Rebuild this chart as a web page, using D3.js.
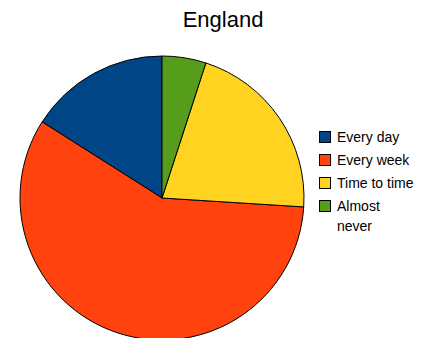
<!DOCTYPE html>
<html>
<head>
<meta charset="utf-8">
<script src="https://cdn.jsdelivr.net/npm/d3@7"></script>
<style>
  body { margin: 0; background: #fff; }
  svg { display: block; font-family: "Liberation Sans", Arial, sans-serif; }
</style>
</head>
<body>
<div id="viz"></div>
<script>
// dados - data
var categories = ['Every day', 'Every week', 'Time to time', 'Almost never'];
var values = [16, 58, 21, 5];
var colors = ['#004586', '#ff420e', '#ffd320', '#579d1c'];

var width = 430, height = 338;
var cx = 162, cy = 198, radius = 142;

var svg = d3.select('#viz')
  .append('svg')
  .attr('width', width)
  .attr('height', height);

svg.append('text')
  .attr('x', 223)
  .attr('y', 27)
  .attr('text-anchor', 'middle')
  .attr('font-size', '22px')
  .attr('fill', '#000')
  .text('England');

var data = categories.map(function(c, i) { return {name: c, value: values[i], color: colors[i]}; });

// pie goes counterclockwise from 12 o'clock
var pie = d3.pie()
  .sort(null)
  .value(function(d) { return d.value; })
  .startAngle(0)
  .endAngle(-2 * Math.PI);

var arc = d3.arc().innerRadius(0).outerRadius(radius);

var g = svg.append('g').attr('transform', 'translate(' + cx + ',' + cy + ')');

g.selectAll('path')
  .data(pie(data))
  .enter()
  .append('path')
  .attr('d', arc)
  .attr('fill', function(d) { return d.data.color; })
  .attr('stroke', '#000')
  .attr('stroke-width', 1)
  .attr('stroke-linejoin', 'round');

// legenda - legend
var legend = svg.append('g').attr('transform', 'translate(319,131)');
var rowY = [0, 23, 46, 69];

var item = legend.selectAll('g')
  .data(data)
  .enter()
  .append('g')
  .attr('transform', function(d, i) { return 'translate(0,' + rowY[i] + ')'; });

item.append('rect')
  .attr('x', 0.5)
  .attr('y', 0.5)
  .attr('width', 11)
  .attr('height', 11)
  .attr('fill', function(d) { return d.color; })
  .attr('stroke', '#000')
  .attr('stroke-width', 1);

item.append('text')
  .attr('x', 18)
  .attr('y', 11)
  .attr('font-size', '14px')
  .attr('fill', '#000')
  .each(function(d) {
    var t = d3.select(this);
    var parts = d.name === 'Almost never' ? ['Almost', 'never'] : [d.name];
    parts.forEach(function(p, j) {
      t.append('tspan').attr('x', 18).attr('dy', j === 0 ? 0 : 20).text(p);
    });
  });
</script>
</body>
</html>
